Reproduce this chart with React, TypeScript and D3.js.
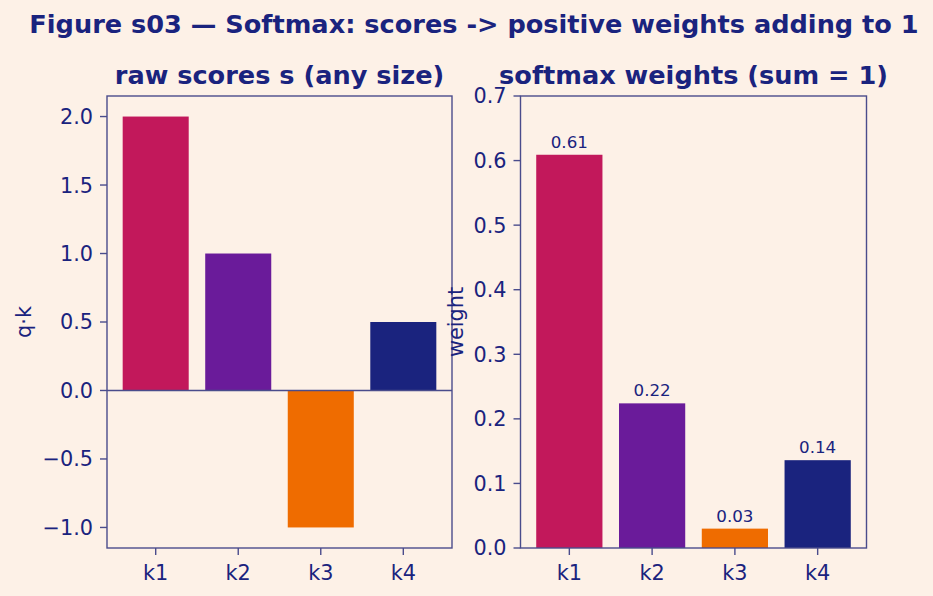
import * as d3 from "d3";

const KEYS = ["k1", "k2", "k3", "k4"];
const SCORES = [2.0, 1.0, -1.0, 0.5];
const WEIGHTS = [0.609, 0.224, 0.03, 0.136];
const BAR_COLORS = ["#c2185b", "#6a1b9a", "#ef6c00", "#1a237e"];
const SCORE_TICKS = [-1.0, -0.5, 0.0, 0.5, 1.0, 1.5, 2.0];
const WEIGHT_TICKS = [0.0, 0.1, 0.2, 0.3, 0.4, 0.5, 0.6, 0.7];

const W = 933;
const H = 596;
const BG = "#fdf1e7";
const INK = "#1a237e";
const SPINE = "#4a4c8c";
const FONT = "DejaVu Sans, sans-serif";

const TOP = 96;
const BOTTOM = 548;

interface PanelProps {
  left: number;
  right: number;
  values: number[];
  domain: [number, number];
  ticks: number[];
  title: string;
  yLabel: string;
  yLabelX: number;
  zeroLine?: boolean;
  barLabels?: boolean;
}

const fmt = (v: number) => d3.format(".1f")(v).replace("-", "\u2212");

function Panel({ left, right, values, domain, ticks, title, yLabel, yLabelX, zeroLine, barLabels }: PanelProps) {
  const x = d3.scaleBand<string>().domain(KEYS).range([left, right]).paddingInner(0.2).paddingOuter(0.19);
  const y = d3.scaleLinear().domain(domain).range([BOTTOM, TOP]);
  const base = Math.max(domain[0], 0);

  return (
    <g>
      {values.map((v, i) => {
        const y0 = y(base);
        const y1 = y(v);
        return (
          <rect
            key={KEYS[i]}
            x={x(KEYS[i])}
            y={Math.min(y0, y1)}
            width={x.bandwidth()}
            height={Math.abs(y1 - y0)}
            fill={BAR_COLORS[i]}
          />
        );
      })}
      {barLabels &&
        values.map((v, i) => (
          <text
            key={"l" + KEYS[i]}
            x={(x(KEYS[i]) ?? 0) + x.bandwidth() / 2}
            y={y(v) - 7}
            textAnchor="middle"
            fontSize={16.7}
            fill={INK}
          >
            {v.toFixed(2)}
          </text>
        ))}
      {zeroLine && (
        <line x1={left} x2={right} y1={y(0)} y2={y(0)} stroke={SPINE} strokeWidth={1.4} />
      )}
      <rect x={left} y={TOP} width={right - left} height={BOTTOM - TOP} fill="none" stroke={SPINE} strokeWidth={1.4} />
      {ticks.map((t) => (
        <g key={t}>
          <line x1={left - 7} x2={left} y1={y(t)} y2={y(t)} stroke={SPINE} strokeWidth={1.4} />
          <text x={left - 14} y={y(t)} dy="0.36em" textAnchor="end" fontSize={20.8} fill={INK}>
            {fmt(t)}
          </text>
        </g>
      ))}
      {KEYS.map((k) => {
        const cx = (x(k) ?? 0) + x.bandwidth() / 2;
        return (
          <g key={k}>
            <line x1={cx} x2={cx} y1={BOTTOM} y2={BOTTOM + 7} stroke={SPINE} strokeWidth={1.4} />
            <text x={cx} y={BOTTOM + 32} textAnchor="middle" fontSize={20.8} fill={INK}>
              {k}
            </text>
          </g>
        );
      })}
      <text
        transform={`translate(${yLabelX},${(TOP + BOTTOM) / 2}) rotate(-90)`}
        textAnchor="middle"
        fontSize={20.8}
        fill={INK}
      >
        {yLabel}
      </text>
      <text x={(left + right) / 2} y={84} textAnchor="middle" fontSize={25.6} fontWeight="bold" fill={INK}>
        {title}
      </text>
    </g>
  );
}

export default function App() {
  return (
    <svg
      width={W}
      height={H}
      viewBox={`0 0 ${W} ${H}`}
      style={{ position: "absolute", left: 0, top: 0 }}
      fontFamily={FONT}
    >
      <rect width={W} height={H} fill={BG} />
      <text x={474} y={33} textAnchor="middle" fontSize={25.6} fontWeight="bold" fill={INK}>
        Figure s03 — Softmax: scores -&gt; positive weights adding to 1
      </text>
      <Panel
        left={107}
        right={452}
        values={SCORES}
        domain={[-1.15, 2.15]}
        ticks={SCORE_TICKS}
        title="raw scores s (any size)"
        yLabel="q·k"
        yLabelX={31}
        zeroLine
      />
      <Panel
        left={520.5}
        right={866.5}
        values={WEIGHTS}
        domain={[0, 0.7]}
        ticks={WEIGHT_TICKS}
        title="softmax weights (sum = 1)"
        yLabel="weight"
        yLabelX={463}
        barLabels
      />
    </svg>
  );
}
